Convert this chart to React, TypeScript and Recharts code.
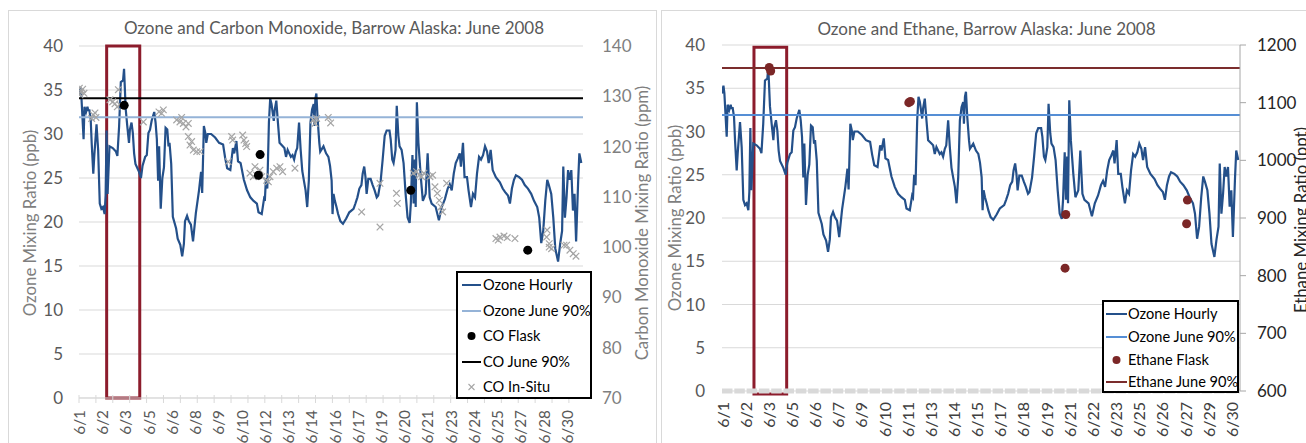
import React from 'react';
import {
  ComposedChart, Line, Scatter, XAxis, YAxis, CartesianGrid, ReferenceLine, ReferenceArea,
} from 'recharts';

const FONT = "Lato, 'Open Sans', sans-serif";

// hour since start of record (6/1), ozone ppb
const ozoneHourly: [number, number][] = [
  [0, 34.4], [2, 35.3], [3.3, 34.4], [6.5, 29.4], [7.8, 33.1], [10, 32.5], [12, 33.1], [13, 32.7], [14.8, 32.7],
  [16.6, 31.7], [18, 29], [20.3, 25.5], [21.7, 27.5], [24.9, 31.1], [27.2, 28.2], [29.5, 22.1], [31.8, 21.5],
  [34, 21.7], [36.4, 20.9], [37.8, 23.0], [39.2, 30.4], [40.6, 23.2], [43.3, 28.6], [47.9, 28.4], [52.5, 28.0],
  [54.5, 27.5], [57, 30.9], [59.4, 35.9], [62.6, 36.1], [64, 37.4], [66.3, 32.9], [68.6, 30.9], [71, 29],
  [72.3, 30.5], [74.6, 31.3], [76.5, 30.1], [78.3, 27.8], [80.2, 26.6], [84.8, 25.8], [88, 25.0], [90.3, 26.4],
  [94, 27.4], [96.3, 27.6], [98.6, 30.1], [100.9, 30.5], [103.2, 31.5], [106.9, 32.5], [108.8, 31.3],
  [110.6, 29.4], [112.4, 24.7], [113.8, 28.6], [116.1, 21.5], [118.4, 25.0], [120.7, 26.2], [123, 30.7],
  [125.4, 30.5], [127.2, 28.6], [128.6, 29.0], [131, 26.6], [133.3, 20.6], [137.9, 19.3], [140.2, 18.1],
  [143.9, 17.4], [146.6, 16.1], [149, 17.5], [150.6, 20.1], [153.5, 20.7], [156, 20.1], [159, 19.7],
  [162, 17.8], [166, 21], [170.5, 23.6], [173.4, 25.7], [175, 23.3], [177.4, 30.9], [179.7, 30.0],
  [180.8, 29], [183, 30], [187.7, 30], [193.4, 29.6], [199, 29.0], [204.7, 28.8], [207.6, 27.3],
  [210.5, 26.1], [215, 25.9], [218.6, 28.4], [220.5, 27.8], [223.6, 29.2], [225.9, 26.9], [229.6, 26.7],
  [234.2, 24.8], [238.8, 23.6], [243.4, 22.8], [248, 22.4], [252.7, 22.1], [255, 21.1], [259.6, 20.9],
  [262.8, 22.6], [264, 22.4], [265.6, 25.0], [267.5, 23.8], [269.8, 31.3], [271.6, 34.0], [273.5, 33.4],
  [276.7, 31.5], [278, 32.7], [280.3, 33.8], [282.6, 31.3], [284.9, 29.0], [289.5, 28.6], [291.8, 28.4],
  [294.1, 27.4], [296.4, 28.2], [301, 27.4], [303.3, 27.6], [305.6, 27.1], [308, 28.0], [310, 28.4],
  [312.6, 31.3], [314.9, 28.2], [317.2, 25.8], [319.5, 24.7], [321.9, 23.6], [324.2, 21.7], [326.5, 24.7],
  [328.8, 31.3], [331.1, 32.8], [333.4, 33.4], [334.4, 30.9], [335.8, 34.0], [337.2, 34.6], [339, 31.7],
  [341.4, 29.0], [342.7, 28.0], [347.3, 28.6], [351, 27.8], [354.3, 27.4], [356.6, 26.4], [358.9, 24.7],
  [360.2, 20.9], [361.6, 23.2], [363.5, 22.4], [365.8, 21.7], [368.1, 20.9], [371.3, 20.1], [375, 19.8],
  [379.6, 20.4], [384, 21.1], [390, 21.5], [392.7, 22.1], [395.5, 22.8], [398.3, 23.8], [401.2, 24.2],
  [403, 25.5], [405.2, 26.3], [407, 25.1], [408.6, 23.2], [411, 24.9], [414.3, 24.9], [417.2, 24.2],
  [420, 23.6], [423, 22.8], [425, 23.0], [428.6, 24.7], [431.4, 27.1], [434.3, 29.8], [437.1, 30.4],
  [441.1, 30.4], [442.8, 29.4], [445, 27.1], [446.9, 26.7], [449.7, 28.2], [451.4, 33.2], [453.7, 29.8],
  [455.4, 28.6], [458.3, 28.2], [461.1, 26.7], [464, 23.2], [466.8, 20.5], [469.7, 19.9], [471.4, 22.1],
  [473.7, 27.6], [475.4, 22.1], [477.1, 27.1], [478.3, 21.7], [480, 33.6], [482.2, 29.0], [485.6, 25.1],
  [488.5, 22.4], [492.5, 23.2], [495.3, 27.8], [498.2, 22.8], [501, 22.1], [506.7, 21.7], [511.3, 20.2],
  [515.3, 21.7], [519.8, 22.6], [523.8, 23.8], [526.7, 24.3], [529.5, 23.6], [532.4, 25.5], [535.2, 26.7],
  [538, 27.2], [540.9, 27.8], [542.6, 26.3], [545.5, 29.0], [547.7, 25.1], [551.2, 25.1], [553.4, 23.6],
  [556.9, 21.7], [559.7, 23.2], [562.6, 22.8], [565.4, 25.5], [568.3, 27.4], [571.1, 27.1], [574, 27.6],
  [576.8, 28.6], [579.7, 28.0], [582, 26.7], [584.8, 28.2], [587.7, 25.9], [592.2, 25.1], [597.9, 24.5],
  [601.9, 23.8], [605.4, 23.4], [609.4, 23.0], [612.2, 22.1], [615, 23.8], [617.9, 24.8], [620.7, 25.3],
  [625.3, 25.1], [629.3, 24.8], [633.3, 24.2], [637.8, 23.8], [642.4, 23.2], [646.4, 22.4], [651, 21.7],
  [653.8, 20.5], [656.7, 17.6], [659.5, 19.0], [662.4, 22.4], [665.2, 24.8], [667.5, 24.2], [670.9, 23.2],
  [673.8, 20.5], [676.6, 17.0], [680.6, 15.5], [683.5, 17.5], [686.3, 19.0], [688, 26.3], [690.3, 20.5],
  [692.6, 22.8], [694.8, 25.9], [697.1, 24.8], [699.4, 25.9], [701.7, 21.3], [704, 23.2], [706.2, 17.8],
  [709.1, 24.6], [710.8, 27.8], [713.6, 26.7],
];

// hour, CO ppb
const coFlask: [number, number][] = [
  [64.2, 128.2], [257.3, 118.4], [254.9, 114.3], [471.3, 111.3], [637.5, 99.4],
];

const coInSitu: [number, number][] = [
  [0.5, 131.6], [2.4, 130.9], [5.2, 131.4], [7.1, 130.6], [1.4, 130.3],
  [18, 125.6], [20.3, 126.3], [22.7, 126.7], [24.1, 125.8],
  [44, 129.3], [47.8, 128.9], [51.1, 128.5], [54.4, 127.9], [58.2, 128.3], [55.9, 131.3],
  [91.4, 124.9],
  [113.6, 126.9], [117.4, 126.6], [119.8, 127.3],
  [138.7, 125.3], [143.4, 124.9], [148.2, 124.6], [152, 123.9], [155.3, 124.6], [145.8, 125.8],
  [155.3, 122], [157.7, 120.3], [162.4, 119.3], [167.2, 119], [171.9, 119], [160, 121],
  [212, 117], [216.9, 122], [218.3, 121.3], [232.5, 122.3], [234.4, 121.3], [236.8, 120.6], [238.2, 120],
  [242.9, 114.7], [247.6, 114], [252.4, 114.3], [257.1, 115.3], [259.5, 114], [250, 116],
  [266.6, 113.3], [271.3, 114], [276, 115], [280.8, 115.7], [285.5, 116], [289.3, 115], [269, 113],
  [306.8, 115.7],
  [332.8, 125.3], [335.2, 124.6], [337.6, 125.6],
  [354.1, 125.8], [357.5, 124.7],
  [401.5, 107], [427.6, 112.7], [427.6, 104], [451, 110.7], [452.2, 108.7],
  [474.9, 114.7], [479.6, 115], [483.4, 114.3], [486.8, 114], [490, 114.7],
  [498.6, 114], [502.4, 114.3], [505.7, 112], [509, 110.7], [511.8, 109.3], [514.2, 108], [516.6, 107], [522.3, 112.7],
  [592.3, 101.7], [598, 102], [603.7, 102.2], [608.4, 101.9], [595.6, 101.4], [619.3, 101.7],
  [664.3, 102], [665, 103.4], [668, 100.7], [668, 100], [671.4, 99.7], [689, 100.4],
  [692.7, 100.4], [697.4, 99.4], [702.1, 98.7], [706, 98.2],
];

// hour, ethane ppt
const ethaneFlask: [number, number][] = [
  [65.3, 1161], [67.3, 1155], [258.2, 1100], [260.4, 1102], [475.2, 906], [474.2, 813], [643.3, 931], [642.2, 890],
];

const coDateLabels = ['6/1', '6/2', '6/3', '6/5', '6/6', '6/8', '6/9', '6/10', '6/12', '6/13', '6/14', '6/16',
  '6/17', '6/19', '6/20', '6/21', '6/23', '6/24', '6/25', '6/27', '6/28', '6/30'];
const ethDateLabels = ['6/1', '6/2', '6/3', '6/5', '6/6', '6/7', '6/9', '6/10', '6/11', '6/13', '6/14', '6/15',
  '6/17', '6/18', '6/19', '6/21', '6/22', '6/23', '6/25', '6/26', '6/27', '6/29', '6/30'];

const ozoneTicks = [0, 5, 10, 15, 20, 25, 30, 35, 40];
const coTicks = [70, 80, 90, 100, 110, 120, 130, 140];
const ethTicks = [600, 700, 800, 900, 1000, 1100, 1200];

const ozone90 = 31.9;
const co90 = 129.6;
const ethane90 = 1160;

const recordHours = 716;
const coLabelStep = 33;
const ethLabelStep = 32;
const dayCount = 30;

const highlightCO = { x1: 39.3, x2: 86.3, y1: 0, y2: 40 };
const highlightEth = { x1: 44.2, x2: 89.4, y1: -0.35, y2: 39.75 };

const toPts = (arr: [number, number][]) => arr.map(([h, v]) => ({ h, v }));
const ozonePts = toPts(ozoneHourly);
const coFlaskPts = toPts(coFlask);
const coInSituPts = toPts(coInSitu);
const ethFlaskPts = toPts(ethaneFlask);

const dayHours = Array.from({ length: dayCount }, (_, d) => d * 24);
const coXTicks = Array.from(new Set([...coDateLabels.map((_, i) => i * coLabelStep), ...dayHours])).sort((a, b) => a - b);
const ethXTicks = ethDateLabels.map((_, i) => i * ethLabelStep);

const XTick = (props: any) => {
  const { x, y, payload, labels, step, marks, gap, color, size } = props;
  const v = payload.value;
  const idx = v / step;
  const isLabel = Number.isInteger(idx) && idx < labels.length;
  const isDay = v % 24 === 0;
  const ty = y + gap;
  return (
    <g>
      {marks && isDay && <line x1={x} x2={x} y1={y - 3} y2={y + 5} stroke="#d9d9d9" strokeWidth={1} />}
      {isLabel && (
        <text x={x} y={ty} transform={`rotate(-90 ${x} ${ty})`} textAnchor="end" dominantBaseline="central"
          fill={color} fontSize={size} fontFamily={FONT}>{labels[idx]}</text>
      )}
    </g>
  );
};

const VLabel = (props: any) => {
  const { cx, cy, text, color } = props;
  return (
    <text x={cx} y={cy} transform={`rotate(-90 ${cx} ${cy})`} textAnchor="middle" dominantBaseline="central"
      fill={color} fontSize={16.8} fontFamily={FONT}>{text}</text>
  );
};

const XMark = (props: any) => {
  const { cx, cy } = props;
  if (cx == null || cy == null) return <g />;
  const s = 3.3;
  return (
    <path d={`M${cx - s},${cy - s}L${cx + s},${cy + s}M${cx - s},${cy + s}L${cx + s},${cy - s}`}
      stroke="#a6a6a6" strokeWidth={1.2} fill="none" />
  );
};

const Dot = (color: string) => (props: any) => {
  const { cx, cy } = props;
  if (cx == null || cy == null) return <g />;
  return <circle cx={cx} cy={cy} r={4.5} fill={color} />;
};

type LegendItem = { label: string; kind: 'line' | 'dot' | 'x'; color: string };

const LegendBox = ({ left, top, width, height, items, rowTop, rowGap, sampleX, textX }:
  { left: number; top: number; width: number; height: number; items: LegendItem[]; rowTop: number; rowGap: number; sampleX: [number, number]; textX: number }) => (
  <div style={{
    position: 'absolute', left, top, width, height, boxSizing: 'border-box', border: '2px solid #000',
    background: '#fff', overflow: 'hidden',
  }}>
    {items.map((it, i) => {
      const cy = rowTop + i * rowGap - 2;
      const mid = (sampleX[0] + sampleX[1]) / 2;
      return (
        <React.Fragment key={it.label}>
          <svg style={{ position: 'absolute', left: 0, top: cy - 8 }} width={30} height={16}>
            {it.kind === 'line' && <line x1={sampleX[0] - 2} x2={sampleX[1] - 2} y1={8} y2={8} stroke={it.color} strokeWidth={2} />}
            {it.kind === 'dot' && <circle cx={mid - 2} cy={8} r={4} fill={it.color} />}
            {it.kind === 'x' && (
              <path d={`M${mid - 5},5L${mid + 1},11M${mid - 5},11L${mid + 1},5`} stroke={it.color} strokeWidth={1.1} />
            )}
          </svg>
          <div style={{
            position: 'absolute', left: textX - 2, top: cy - 10, height: 20, lineHeight: '20px', whiteSpace: 'nowrap',
            fontFamily: FONT, fontSize: 14.6, color: '#000',
          }}>{it.label}</div>
        </React.Fragment>
      );
    })}
  </div>
);

const coLegend: LegendItem[] = [
  { label: 'Ozone Hourly', kind: 'line', color: '#24508a' },
  { label: 'Ozone June 90%', kind: 'line', color: '#95b3d7' },
  { label: 'CO Flask', kind: 'dot', color: '#000' },
  { label: 'CO June 90%', kind: 'line', color: '#000' },
  { label: 'CO In-Situ', kind: 'x', color: '#a6a6a6' },
];

const ethLegend: LegendItem[] = [
  { label: 'Ozone Hourly', kind: 'line', color: '#24508a' },
  { label: 'Ozone June 90%', kind: 'line', color: '#558ed5' },
  { label: 'Ethane Flask', kind: 'dot', color: '#7b2727' },
  { label: 'Ethane June 90%', kind: 'line', color: '#7b2d2d' },
];

const tickStyle = { fill: '#595959', fontSize: 17, fontFamily: FONT };

export default function App() {
  return (
    <div style={{ position: 'fixed', left: 0, top: 0, width: 1306, height: 443, overflow: 'hidden', background: '#fff' }}>
      {/* frames */}
      <div style={{ position: 'absolute', left: 8, top: 10, width: 649, height: 460, border: '1px solid #d9d9d9', boxSizing: 'border-box' }} />
      <div style={{ position: 'absolute', left: 661, top: 10, width: 660, height: 460, border: '1px solid #d9d9d9', boxSizing: 'border-box' }} />

      {/* titles */}
      <div style={{ position: 'absolute', left: 34, width: 600, top: 17, textAlign: 'center', fontFamily: FONT, fontSize: 17, color: '#595959', lineHeight: '22px' }}>
        Ozone and Carbon Monoxide, Barrow Alaska: June 2008
      </div>
      <div style={{ position: 'absolute', left: 686.5, width: 600, top: 18, textAlign: 'center', fontFamily: FONT, fontSize: 17, color: '#595959', lineHeight: '22px' }}>
        Ozone and Ethane, Barrow Alaska: June 2008
      </div>

      {/* left chart */}
      <div style={{ position: 'absolute', left: 8, top: 10 }}>
        <ComposedChart width={649} height={433} margin={{ top: 36, right: 0, bottom: 0, left: 0 }}>
          <CartesianGrid yAxisId="oz" vertical={false} stroke="#d9d9d9" />
          <XAxis dataKey="h" type="number" domain={[0, recordHours]} allowDataOverflow ticks={coXTicks} interval={0}
            height={45} tickSize={0} tickMargin={0} tickLine={false} axisLine={{ stroke: '#d9d9d9' }}
            tick={<XTick labels={coDateLabels} step={coLabelStep} marks gap={12} color="#595959" size={15.3} />} />
          <YAxis yAxisId="oz" domain={[0, 40]} ticks={ozoneTicks} width={71} axisLine={false} tickLine={false}
            tickSize={0} tickMargin={16} tick={tickStyle}
            label={<VLabel cx={21.5} cy={213} text="Ozone Mixing Ratio (ppb)" color="#7f7f7f" />} />
          <YAxis yAxisId="co" orientation="right" domain={[70, 140]} ticks={coTicks} width={74} axisLine={false}
            tickLine={false} tickSize={0} tickMargin={19} tick={{ ...tickStyle, fill: '#7f7f7f' }}
            label={<VLabel cx={633.8} cy={213} text="Carbon Monoxide Mixing Ratio (ppm)" color="#7f7f7f" />} />
          <Line yAxisId="oz" data={ozonePts} dataKey="v" stroke="#24508a" strokeWidth={2.2} dot={false}
            isAnimationActive={false} />
          <ReferenceLine yAxisId="oz" y={ozone90} stroke="#95b3d7" strokeWidth={2} />
          <ReferenceLine yAxisId="co" y={co90} stroke="#000" strokeWidth={2} />
          <Scatter yAxisId="co" data={coInSituPts} dataKey="v" shape={XMark} isAnimationActive={false} />
          <Scatter yAxisId="co" data={coFlaskPts} dataKey="v" shape={Dot('#000')} isAnimationActive={false} />
          <ReferenceArea yAxisId="oz" x1={highlightCO.x1} x2={highlightCO.x2} y1={highlightCO.y1} y2={highlightCO.y2}
            fill="none" fillOpacity={0} stroke="#8c1c2c" strokeWidth={3} ifOverflow="visible" />
        </ComposedChart>
      </div>

      {/* right chart */}
      <div style={{ position: 'absolute', left: 661, top: 10 }}>
        <ComposedChart width={645} height={433} margin={{ top: 35, right: 0, bottom: 0, left: 0 }}>
          <CartesianGrid yAxisId="oz" vertical={false} stroke="#d9d9d9" />
          <XAxis dataKey="h" type="number" domain={[0, recordHours]} allowDataOverflow ticks={ethXTicks} interval={0}
            height={52} tickSize={0} tickMargin={0} tickLine={false}
            axisLine={{ stroke: '#d9d9d9', strokeWidth: 5, strokeDasharray: '10.5 1.8' }}
            tick={<XTick labels={ethDateLabels} step={ethLabelStep} marks={false} gap={11} color="#404040" size={16} />} />
          <YAxis yAxisId="oz" domain={[0, 40]} ticks={ozoneTicks} width={61} axisLine={false} tickLine={false}
            tickSize={0} tickMargin={17} tick={tickStyle}
            label={<VLabel cx={13.4} cy={208} text="Ozone Mixing Ratio (ppb)" color="#7f7f7f" />} />
          <YAxis yAxisId="eth" orientation="right" domain={[600, 1200]} ticks={ethTicks} width={66}
            axisLine={{ stroke: '#a6a6a6' }} tickLine={{ stroke: '#a6a6a6' }} tickSize={6} tickMargin={11}
            tick={{ ...tickStyle, fill: '#262626' }}
            label={<VLabel cx={639.5} cy={210} text="Ethane Mixing Ratio (ppt)" color="#262626" />} />
          <Line yAxisId="oz" data={ozonePts} dataKey="v" stroke="#24508a" strokeWidth={2.2} dot={false}
            isAnimationActive={false} />
          <ReferenceLine yAxisId="oz" y={ozone90} stroke="#558ed5" strokeWidth={2} />
          <ReferenceLine yAxisId="eth" y={ethane90} stroke="#7b2d2d" strokeWidth={2} />
          <Scatter yAxisId="eth" data={ethFlaskPts} dataKey="v" shape={Dot('#7b2727')} isAnimationActive={false} />
          <ReferenceArea yAxisId="oz" x1={highlightEth.x1} x2={highlightEth.x2} y1={highlightEth.y1} y2={highlightEth.y2}
            fill="none" fillOpacity={0} stroke="#8c1c2c" strokeWidth={3} ifOverflow="visible" />
        </ComposedChart>
      </div>

      <LegendBox left={456} top={271} width={136} height={128} items={coLegend} rowTop={14} rowGap={25.5}
        sampleX={[6, 25]} textX={27} />
      <LegendBox left={1102} top={300} width={137} height={93} items={ethLegend} rowTop={14} rowGap={22.8}
        sampleX={[4, 25]} textX={26} />
    </div>
  );
}
